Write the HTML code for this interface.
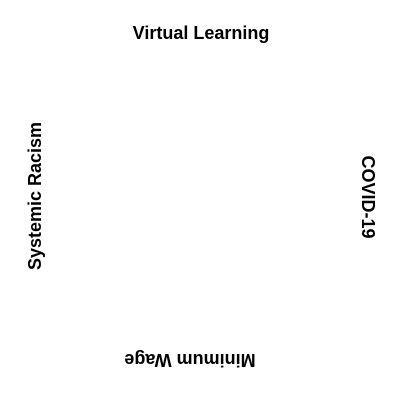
<!DOCTYPE html>
<html><head><style>html,body{margin:0;padding:0;background:#fff;}</style></head>
<body>
<svg width="400" height="400" xmlns="http://www.w3.org/2000/svg" style="display:block">
<g font-family="Liberation Sans, Arial, sans-serif" font-weight="bold" font-size="18" fill="#000" text-anchor="middle">
<text x="201" y="39">Virtual Learning</text>
<text transform="translate(41,196) rotate(-90)">Systemic Racism</text>
<text transform="translate(362,197) rotate(90)">COVID-19</text>
<text transform="translate(190,354) rotate(180)">Minimum Wage</text>
</g>
</svg>
</body></html>
